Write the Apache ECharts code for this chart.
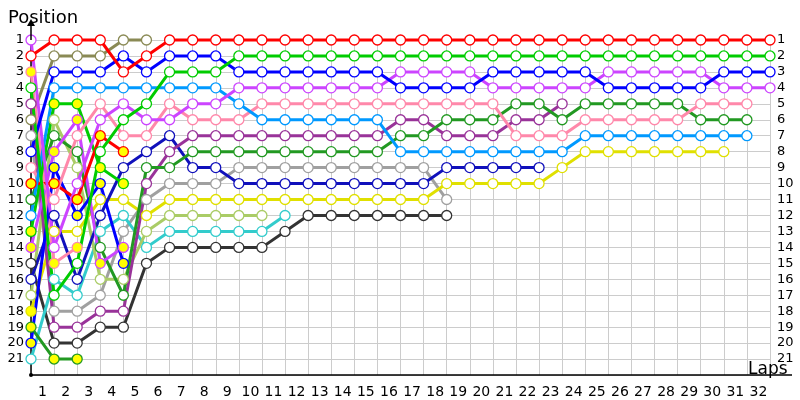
<!DOCTYPE html>
<html><head><meta charset="utf-8">
<script src="https://cdn.jsdelivr.net/npm/echarts@6/dist/echarts.min.js"></script>
<style>html,body{margin:0;padding:0;background:#fff}#c{width:800px;height:400px}</style>
</head><body><div id="c"></div>
<script>
// Tick labels
const lapLabels = ['1','2','3','4','5','6','7','8','9','10','11','12','13','14','15','16','17','18','19','20','21','22','23','24','25','26','27','28','29','30','31','32'];
const positionLabels = [1,2,3,4,5,6,7,8,9,10,11,12,13,14,15,16,17,18,19,20,21];

// Position per lap, starting at lap 0 (grid)
const red      = [2,1,1,1,3,2,1,1,1,1,1,1,1,1,1,1,1,1,1,1,1,1,1,1,1,1,1,1,1,1,1,1,1];
const green    = [4,17,15,8,6,5,3,3,3,2,2,2,2,2,2,2,2,2,2,2,2,2,2,2,2,2,2,2,2,2,2,2,2];
const blue     = [8,3,3,3,2,3,2,2,2,3,3,3,3,3,3,3,4,4,4,4,3,3,3,3,3,4,4,4,4,4,3,3,3];
const violet   = [1,14,10,6,5,6,6,5,5,4,4,4,4,4,4,4,3,3,3,3,4,4,4,4,4,3,3,3,3,3,4,4,4];
const pink     = [9,11,7,5,7,7,5,6,6,6,5,5,5,5,5,5,5,5,5,5,5,7,7,7,6,6,6,6,6,5,5,5];
const darkGreen= [11,7,8,14,17,9,9,8,8,8,8,8,8,8,8,8,7,7,6,6,6,5,5,6,5,5,5,5,5,6,6,6];
const lightBlue= [12,4,4,4,4,4,4,4,4,5,6,6,6,6,6,6,8,8,8,8,8,8,8,8,7,7,7,7,7,7,7,7];
const yellow   = [18,13,13,11,11,12,11,11,11,11,11,11,11,11,11,11,11,11,10,10,10,10,10,9,8,8,8,8,8,8,8];
const purple   = [5,19,19,18,18,10,8,7,7,7,7,7,7,7,7,7,6,6,7,7,7,6,6,5];
const darkBlue = [16,12,16,12,9,8,7,9,9,10,10,10,10,10,10,10,10,10,9,9,9,9,9];
const gray     = [7,18,18,17,13,11,10,10,10,9,9,9,9,9,9,9,9,9,11];
const darkGray = [15,20,20,19,19,15,14,14,14,14,14,13,12,12,12,12,12,12,12];
const cyan     = [21,16,17,13,12,14,13,13,13,13,13,12];
const lightGreen=[17,6,9,16,16,13,12,12,12,12,12];
const olive    = [6,2,2,2,1,1];
const red2     = [10,10,11,7,8];
const green2   = [13,5,5,9,10];
const blue2    = [20,9,12,10,15];
const violet2  = [14,8,6,15,14];
const pink2    = [3,15,14];
const darkGreen2=[19,21,21];

// drivers: [values, colour, filled laps ('all' or list)]
const drivers = [
  [olive,'#8a8a55',[]],
  [gray,'#a0a0a0',[]],
  [darkGray,'#333333',[]],
  [cyan,'#33cccc',[]],
  [lightGreen,'#aacc66',[]],
  [yellow,'#e0e000',[0]],
  [darkBlue,'#1010bb',[]],
  [purple,'#993399',[]],
  [darkGreen,'#229922',[]],
  [darkGreen2,'#229922','all'],
  [pink2,'#ff88aa','all'],
  [violet2,'#cc44ff','all'],
  [blue2,'#0000ff','all'],
  [green2,'#00cc00','all'],
  [red2,'#ff0000','all'],
  [pink,'#ff88aa',[]],
  [lightBlue,'#0099ff',[]],
  [violet,'#cc44ff',[]],
  [blue,'#0000ff',[]],
  [green,'#00cc00',[]],
  [red,'#ff0000',[]]
];

const series = drivers.map(([vals,col,filled]) => ({
  type:'line',
  xAxisIndex:0, yAxisIndex:0,
  clip:false,
  symbol:'circle', symbolSize:10,
  lineStyle:{color:col,width:3},
  itemStyle:{color:'#ffffff',borderColor:col,borderWidth:1.3},
  emphasis:{disabled:true},
  data: vals.map((p,i)=>{
    const f = filled==='all' || filled.indexOf(i)>=0;
    return f ? {value:[i,p], itemStyle:{color:'#ffff00',borderColor:col}} : [i,p];
  })
}));

const chart = echarts.init(document.getElementById('c'), null, {renderer:'canvas'});
chart.setOption({
  animation:false,
  backgroundColor:'#ffffff',
  textStyle:{fontFamily:'DejaVu Sans'},
  title:[
    {text:'Position', left:3, top:4, textStyle:{fontFamily:'DejaVu Sans',fontSize:18,fontWeight:'normal',color:'#000'}},
    {text:'Laps', left:743, top:356, textStyle:{fontFamily:'DejaVu Sans',fontSize:17,fontWeight:'normal',color:'#000'}}
  ],
  grid:{left:31,right:30,top:40,bottom:25,containLabel:false},
  xAxis:[
    {type:'value',min:0,max:32,interval:1,
     axisLine:{show:false},axisTick:{show:false},axisLabel:{show:false},
     splitLine:{show:true,lineStyle:{color:'#cccccc',width:1}}},
    {type:'category',data:lapLabels,boundaryGap:true,position:'bottom',
     axisLine:{show:true,lineStyle:{color:'#000',width:1.5}},
     axisTick:{show:false},
     axisLabel:{color:'#000',fontSize:14,margin:10,interval:0,fontFamily:'DejaVu Sans'},
     splitLine:{show:false}}
  ],
  yAxis:[
    {type:'value',min:1,max:22,interval:1,inverse:true,
     axisLine:{show:true,lineStyle:{color:'#000',width:1.5}},
     axisTick:{show:false},
     axisLabel:{color:'#000',fontSize:13,margin:7,fontFamily:'DejaVu Sans',
       formatter:v=>positionLabels.indexOf(v)>=0?String(v):''},
     splitLine:{show:true,lineStyle:{color:'#cccccc',width:1}}},
    {type:'value',min:1,max:22,interval:1,inverse:true,position:'right',
     axisLine:{show:false},axisTick:{show:false},
     axisLabel:{color:'#000',fontSize:13,margin:7,align:'left',fontFamily:'DejaVu Sans',
       formatter:v=>positionLabels.indexOf(v)>=0?String(v):''},
     splitLine:{show:false}}
  ],
  graphic:[
    {type:'line',shape:{x1:31,y1:40,x2:31,y2:26},style:{stroke:'#000',lineWidth:1.5},z:100},
    {type:'polygon',shape:{points:[[27,26],[35,26],[31,19]]},style:{fill:'#000'},z:100},
    {type:'line',shape:{x1:770,y1:375,x2:792,y2:375},style:{stroke:'#000',lineWidth:1.5},z:100},
    {type:'circle',shape:{cx:31,cy:375,r:2},style:{fill:'#000'},z:100}
  ],
  series: series
});
</script></body></html>
